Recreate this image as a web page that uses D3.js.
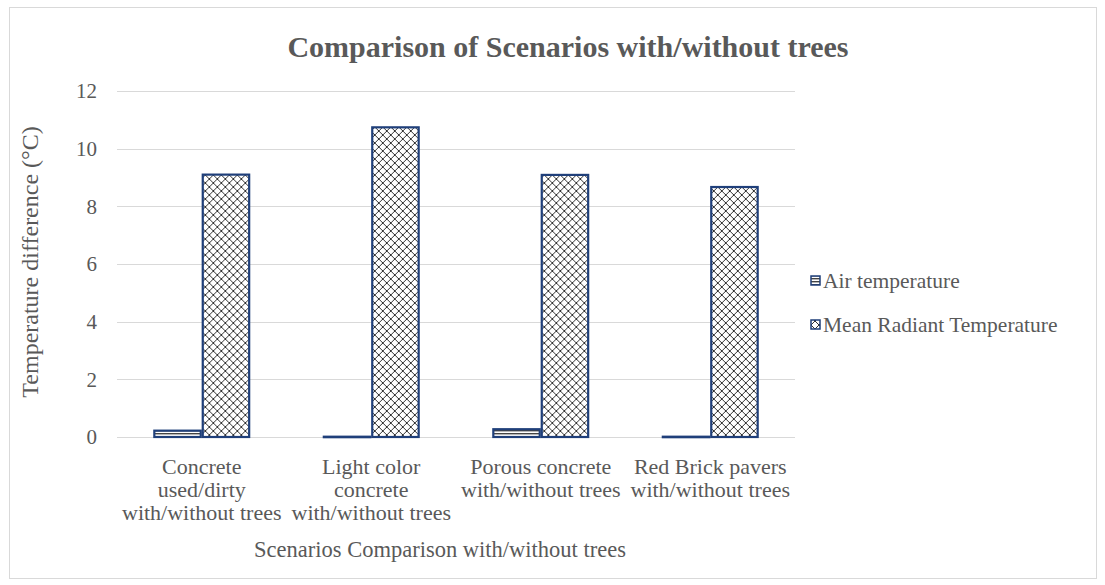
<!DOCTYPE html>
<html>
<head>
<meta charset="utf-8">
<script src="https://cdn.jsdelivr.net/npm/d3@7"></script>
<style>
  html, body { margin: 0; padding: 0; background: #fff; }
  svg { display: block; font-family: "Liberation Serif", "Times New Roman", serif; }
</style>
</head>
<body>
<svg id="chart" width="1105" height="585"></svg>
<script>
// Scenario categories (each label split into lines)
const categories = [
  ["Concrete", "used/dirty", "with/without trees"],
  ["Light color", "concrete", "with/without trees"],
  ["Porous concrete", "with/without trees"],
  ["Red Brick pavers", "with/without trees"]
];
const seriesNames = ["Air temperature", "Mean Radiant Temperature"];
const airTemperature = [0.22, 0.01, 0.27, 0.01];
const meanRadiantTemperature = [9.1, 10.74, 9.09, 8.67];
const yTicks = [0, 2, 4, 6, 8, 10, 12];

const svg = d3.select("#chart");
const W = 1105, H = 585;
const margin = { left: 117, right: 310, top: 91, bottom: 148 };
const plotW = W - margin.left - margin.right;
const plotH = H - margin.top - margin.bottom;
const textColor = "#595959";
const edge = "#1F3F7A";

// Fill patterns
const defs = svg.append("defs");
const hatch = defs.append("pattern")
  .attr("id", "crosshatch").attr("patternUnits", "userSpaceOnUse")
  .attr("width", 8).attr("height", 8);
hatch.append("rect").attr("width", 8).attr("height", 8).attr("fill", "#fff");
hatch.append("path").attr("d", "M0,0L8,8M8,0L0,8M-1,7L1,9M7,-1L9,1")
  .attr("stroke", "#333").attr("stroke-width", 1);
const stripes = defs.append("pattern")
  .attr("id", "hstripes").attr("patternUnits", "userSpaceOnUse")
  .attr("width", 4).attr("height", 3);
stripes.append("rect").attr("width", 4).attr("height", 3).attr("fill", "#fff");
stripes.append("rect").attr("width", 4).attr("height", 1.4).attr("fill", "#444");

// Outer frame
svg.append("rect").attr("x", 9.5).attr("y", 7.5).attr("width", 1087).attr("height", 571)
  .attr("fill", "#fff").attr("stroke", "#d9d9d9").attr("stroke-width", 1);

const g = svg.append("g").attr("transform", `translate(${margin.left},${margin.top})`);

const x0 = d3.scaleBand().domain(d3.range(categories.length)).range([0, plotW])
  .paddingInner(0.4286).paddingOuter(0.2143);
const x1 = d3.scaleBand().domain(seriesNames).range([0, x0.bandwidth()]);
const y = d3.scaleLinear().domain([0, 12]).range([plotH, 0]);

// Gridlines
g.append("g").selectAll("line").data(yTicks).join("line")
  .attr("x1", 0).attr("x2", plotW)
  .attr("y1", d => Math.round(y(d)) + 0.5).attr("y2", d => Math.round(y(d)) + 0.5)
  .attr("stroke", "#d9d9d9").attr("stroke-width", 1);

// Y axis tick labels
const yAxis = d3.axisLeft(y).tickValues(yTicks).tickSize(0).tickPadding(20);
const ya = g.append("g").call(yAxis);
ya.select(".domain").remove();
ya.selectAll("text").attr("fill", textColor).attr("font-size", 21)
  .attr("font-family", "Liberation Serif, serif");

// Bars
const rows = categories.map((c, i) => ({
  i, values: [
    { key: seriesNames[0], v: airTemperature[i], fill: "url(#hstripes)" },
    { key: seriesNames[1], v: meanRadiantTemperature[i], fill: "url(#crosshatch)" }
  ]
}));
const groups = g.append("g").selectAll("g").data(rows).join("g")
  .attr("transform", d => `translate(${x0(d.i)},0)`);
groups.selectAll("rect").data(d => d.values).join("rect")
  .attr("x", d => x1(d.key) + 1)
  .attr("width", x1.bandwidth() - 2)
  .attr("y", d => y(d.v))
  .attr("height", d => Math.max(0.5, plotH - y(d.v)))
  .attr("fill", d => d.fill)
  .attr("stroke", edge).attr("stroke-width", 2.2);

// Category labels
const xl = g.append("g").attr("transform", `translate(0,${plotH})`);
categories.forEach((lines, i) => {
  const t = xl.append("text").attr("text-anchor", "middle")
    .attr("fill", textColor).attr("font-size", 22)
    .attr("x", x0(i) + x0.bandwidth() / 2).attr("y", 37);
  lines.forEach((s, k) => t.append("tspan")
    .attr("x", x0(i) + x0.bandwidth() / 2).attr("dy", k === 0 ? 0 : 23).text(s));
});

// Title
svg.append("text").attr("x", 568).attr("y", 57).attr("text-anchor", "middle")
  .attr("fill", textColor).attr("font-size", 30).attr("font-weight", "bold")
  .text("Comparison of Scenarios with/without trees");

// Axis titles
svg.append("text").attr("x", 440).attr("y", 557).attr("text-anchor", "middle")
  .attr("fill", textColor).attr("font-size", 22.5)
  .text("Scenarios Comparison with/without trees");
svg.append("text").attr("transform", `translate(38,${margin.top + plotH / 2 - 2}) rotate(-90)`)
  .attr("text-anchor", "middle").attr("fill", textColor).attr("font-size", 24)
  .text("Temperature difference (°C)");

// Legend
const legend = svg.append("g").attr("transform", "translate(811,281)");
const legendFills = ["url(#hstripes)", "url(#crosshatch)"];
seriesNames.forEach((name, k) => {
  const row = legend.append("g").attr("transform", `translate(0,${k * 44})`);
  row.append("rect").attr("x", 0).attr("y", -5).attr("width", 9).attr("height", 9)
    .attr("fill", legendFills[k]).attr("stroke", edge).attr("stroke-width", 1.5);
  row.append("text").attr("x", 12).attr("y", 7).attr("fill", textColor)
    .attr("font-size", 21.5).text(name);
});
</script>
</body>
</html>
